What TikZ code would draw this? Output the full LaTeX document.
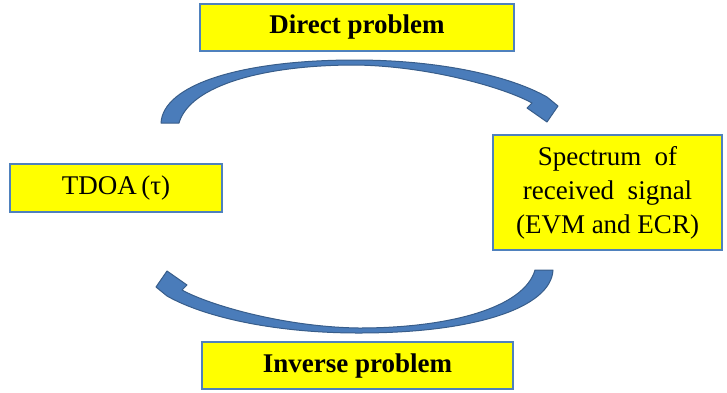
\documentclass[tikz,border=0pt]{standalone}
\usepackage{fontspec}
\setmainfont{Liberation Serif}
\definecolor{boxedge}{RGB}{79,129,189}
\definecolor{boxfill}{RGB}{255,255,0}
\definecolor{arrowfill}{RGB}{74,124,186}
\definecolor{arrowedge}{RGB}{56,93,138}
\tikzset{
  box/.style={draw=boxedge, line width=2.5pt, fill=boxfill, inner sep=0pt, align=center,
    font=\fontsize{27}{34}\selectfont},
  titlebox/.style={box, font=\fontsize{27}{34}\selectfont\bfseries},
  blockarrow/.style={fill=arrowfill, draw=arrowedge, line width=1pt, line join=round},
  pics/curvedarrow/.style={code={
    \filldraw[blockarrow] (161,123) .. controls (163,85) and (240,60) .. (355,60)
      .. controls (440,60) and (510,76) .. (547,97)
      -- (558,106) -- (547,122) -- (527,108) -- (532,103)
      .. controls (505,88) and (430,66) .. (355,65)
      .. controls (265,65) and (190,85) .. (179,123) -- cycle;
  }}
}
\begin{document}
\begin{tikzpicture}[x=1pt,y=-1pt]
\useasboundingbox (0,0) rectangle (727,392);
\node[titlebox, minimum width=314pt, minimum height=47pt] (direct) at (357,27.5) {Direct problem};
\node[titlebox, minimum width=311pt, minimum height=47pt] (inverse) at (357.5,365.5) {Inverse problem};
\node[box, minimum width=212pt, minimum height=48pt] (tdoa) at (116,188) {TDOA\,(τ)};
\node[box, minimum width=229pt, minimum height=115pt] (spec) at (607.5,192.5) {Spectrum\ \ of\\received\ \ signal\\(EVM and ECR)};
\pic at (0,0) {curvedarrow};
\pic[rotate=180] at (714,393) {curvedarrow};
\end{tikzpicture}
\end{document}
